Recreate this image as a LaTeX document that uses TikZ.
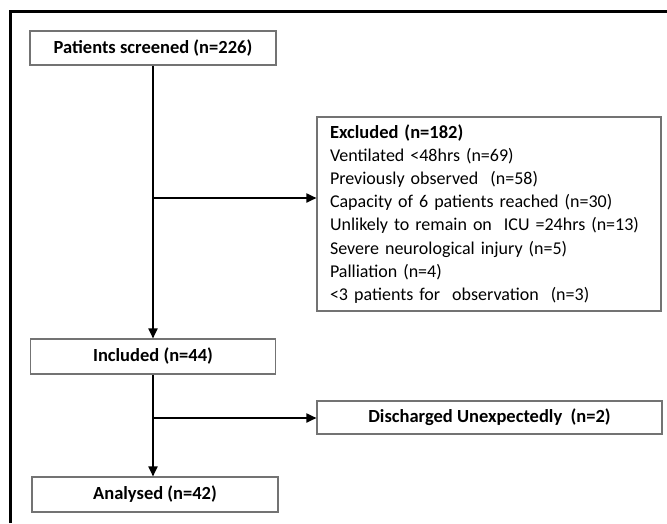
\documentclass[tikz,border=0pt]{standalone}
\usepackage{fontspec}
\setmainfont{Carlito}
\usetikzlibrary{arrows.meta}
\begin{document}
\begin{tikzpicture}[x=1pt,y=-1pt,
    box/.style={draw=black!55,line width=1.1pt,minimum height=34pt,inner sep=0pt,
      font=\fontsize{18.5}{22}\selectfont\bfseries},
    flow/.style={line width=1.8pt,-{Triangle[length=10pt,width=9pt]}}]
    \useasboundingbox (0,0) rectangle (667,523);

    \node[box,minimum width=246pt] (screened) at (153,48) {Patients screened (n=226)};
    \node[box,minimum width=245pt,minimum height=35pt] (included) at (153,356.5) {Included (n=44)};
    \node[box,minimum width=246pt,minimum height=35pt] (analysed) at (155,494.5) {Analysed (n=42)};
    \node[box,minimum width=345pt,minimum height=33pt] (discharged) at (489.5,417.5) {Discharged Unexpectedly~~(n=2)};
    \node[box,minimum width=344pt,minimum height=194pt,text width=318pt,align=left,
      font=\fontsize{18}{23.1}\selectfont] (excluded) at (489,214)
      {{\fontsize{18.5}{23.1}\selectfont\bfseries Excluded (n=182)}\\
       Ventilated <48hrs (n=69)\\
       Previously observed~~(n=58)\\
       Capacity of 6 patients reached (n=30)\\
       Unlikely to remain on~~ICU =24hrs (n=13)\\
       Severe neurological injury (n=5)\\
       Palliation (n=4)\\
       <3 patients for~~observation~~(n=3)};

    \coordinate (b1) at (153,198);
    \coordinate (b2) at (153,418);

    \draw[flow] (screened) -- (included);
    \draw[flow] (included) -- (included |- analysed.north);
    \draw[flow] (b1) -- (b1 -| excluded.west);
    \draw[flow] (b2) -- (b2 -| discharged.west);

    % frame
    \draw[line width=3pt] (10,523) -- (10,11) -- (667,11);
  \end{tikzpicture}
\end{document}
